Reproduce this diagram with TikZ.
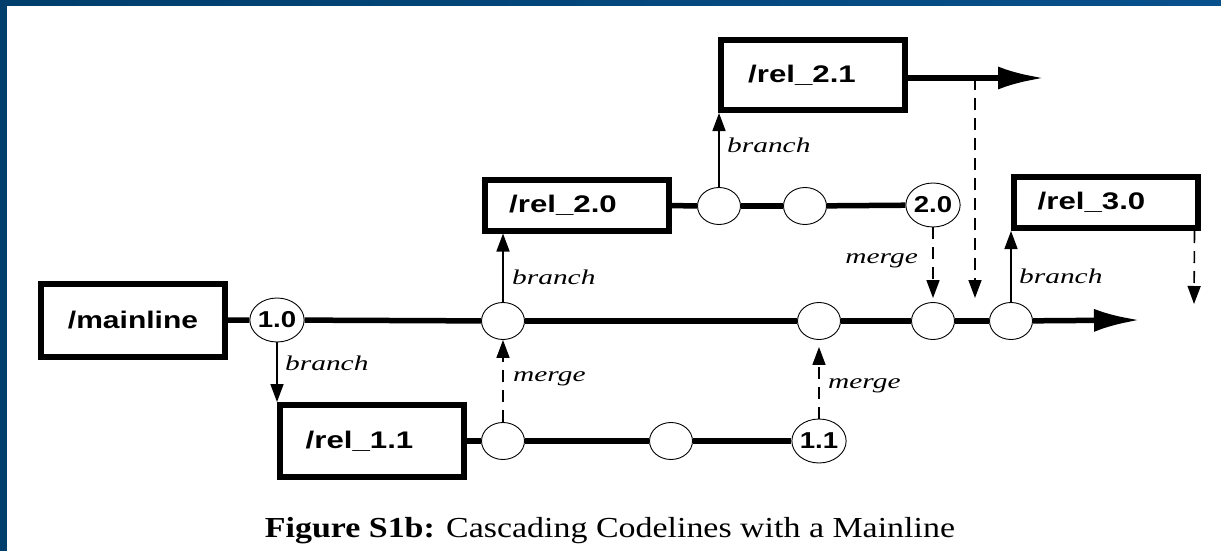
\documentclass[tikz,border=0pt]{standalone}
\usepackage{fontspec}
\usepackage{graphicx}
\setmainfont{Liberation Serif}
\newfontfamily\boxfont{Liberation Sans}
\usetikzlibrary{arrows.meta,shapes.geometric}
\definecolor{frameL}{RGB}{0,62,107}
\definecolor{frameR}{RGB}{8,80,140}
\begin{document}
\begin{tikzpicture}[x=1pt,y=-1pt,
  box/.style={draw, line width=6pt, minimum width=184pt, inner sep=0pt,
    font=\boxfont\bfseries\fontsize{24}{24}\selectfont},
  ver/.style={ellipse, draw, line width=0.9pt, minimum width=43pt, minimum height=37pt, inner sep=0pt, fill=white},
  verl/.style={ver, minimum width=52pt, minimum height=44pt,
    font=\boxfont\bfseries\fontsize{23}{23}\selectfont},
  trunk/.style={line width=5.5pt},
  brline/.style={line width=1.6pt, -{Triangle[length=18pt,width=13pt]}},
  mgline/.style={brline, dash pattern=on 12pt off 8pt},
  lbl/.style={inner sep=0pt, font=\itshape\fontsize{21}{21}\selectfont},
  bigtip/.style={-{Latex[length=46pt,width=23pt]}}
]
\useasboundingbox (0,0) rectangle (1221,551);
\fill[white] (0,0) rectangle (1221,551);
\shade[left color=frameL, right color=frameR] (0,0) rectangle (1221,6);
\fill[frameL] (0,0) rectangle (7,551);

% boxes
\node[box, minimum height=73pt] (mainline) at (133,320.5) {\scalebox{1.25}[1]{/mainline}};
\node[box, minimum height=72pt] (rel11) at (371.5,441) {\scalebox{1.3}[1]{/rel\_1.1}\hspace*{24pt}};
\node[box, minimum height=51pt] (rel20) at (577,205) {\scalebox{1.3}[1]{/rel\_2.0}\hspace*{28pt}};
\node[box, minimum height=70pt] (rel21) at (813,75) {\scalebox{1.3}[1]{/rel\_2.1}\hspace*{22pt}};
\node[box, minimum height=51pt] (rel30) at (1105.5,202.5) {\scalebox{1.3}[1]{/rel\_3.0}\hspace*{28pt}};

% versions
\node[verl] (c10) at (277,320) {\scalebox{1.2}[1]{1.0}};
\node[ver] (m1) at (503,321) {};
\node[ver] (m2) at (819,321) {};
\node[ver] (m3) at (933,321) {};
\node[ver] (m4) at (1011,321) {};
\node[ver] (u1) at (719,206) {};
\node[ver] (u2) at (805,206) {};
\node[verl] (c20) at (933,205) {\scalebox{1.2}[1]{2.0}};
\node[ver] (l1) at (503,441) {};
\node[ver] (l2) at (671,441) {};
\node[verl] (c11) at (819,441) {\scalebox{1.2}[1]{1.1}};

\coordinate (tipM) at (1140,320);
\coordinate (tip21) at (1044,78);
\coordinate (d21) at (975,78);
\coordinate (d21e) at (975,298);
\coordinate (d30e) at (1194,304);

% codelines
\draw[trunk] (mainline) -- (c10);
\draw[trunk] (c10) -- (m1);
\draw[trunk] (m1) -- (m2);
\draw[trunk] (m2) -- (m3);
\draw[trunk] (m3) -- (m4);
\draw[trunk, bigtip] (m4) -- (tipM);
\draw[trunk] (rel20) -- (u1);
\draw[trunk] (u1) -- (u2);
\draw[trunk] (u2) -- (c20);
\draw[trunk] (rel11) -- (l1);
\draw[trunk] (l1) -- (l2);
\draw[trunk] (l2) -- (c11);
\draw[trunk, bigtip] (rel21.east |- tip21) -- (tip21);

% branches
\draw[brline] (c10.south) -- (c10.south |- rel11.north);
\draw[brline] (m1.north) -- (m1.north |- rel20.south);
\draw[brline] (u1.north) -- (u1.north |- rel21.south);
\draw[brline] (m4.north) -- (m4.north |- rel30.south);

% merges
\draw[mgline] (l1.north) -- (m1.south);
\draw[mgline, shorten >=7pt] (c11.north) -- (m2.south);
\draw[mgline, shorten >=4pt] (c20.south) -- (m3.north);
\draw[mgline] (d21) -- (d21e);
\draw[mgline] ([xshift=-6pt]rel30.south east) -- (d30e);

% labels
\node[lbl, anchor=west] (lb1) at (285,363) {\scalebox{1.4}[1]{branch}};
\node[lbl, anchor=west] (lb2) at (512,277) {\scalebox{1.4}[1]{branch}};
\node[lbl, anchor=west] (lb3) at (727,145) {\scalebox{1.4}[1]{branch}};
\node[lbl, anchor=west] (lb4) at (1019,276) {\scalebox{1.4}[1]{branch}};
\node[lbl, anchor=west] (lm1) at (513,379) {\scalebox{1.4}[1]{merge}};
\node[lbl, anchor=west] (lm2) at (828,386) {\scalebox{1.4}[1]{merge}};
\node[lbl, anchor=east] (lm3) at (918,261) {\scalebox{1.4}[1]{merge}};

% caption
\node[inner sep=0pt, anchor=base] (cap) at (610,537) {\scalebox{1.17}[1]{\fontsize{29}{29}\selectfont\textbf{Figure S1b:} Cascading Codelines with a Mainline}};
\end{tikzpicture}
\end{document}
